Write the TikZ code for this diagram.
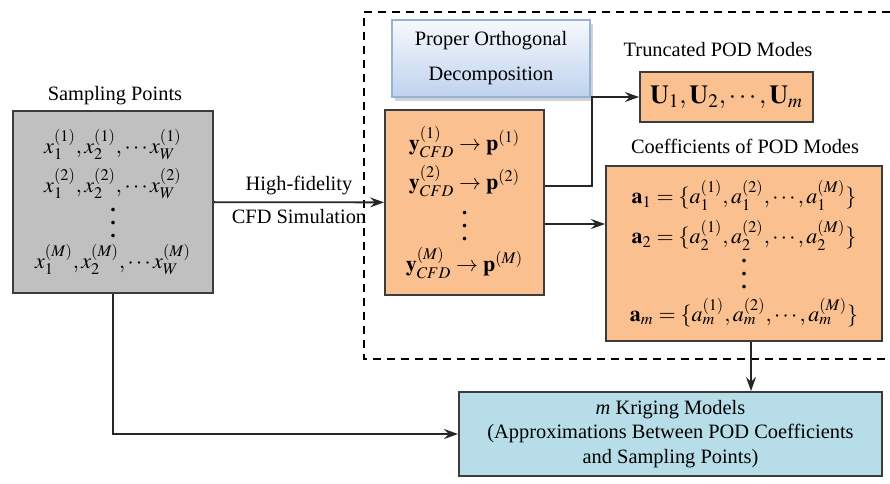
\documentclass[tikz,border=0pt]{standalone}
\usepackage{mathptmx}
\usepackage[no-math]{fontspec}
\setmainfont{Liberation Serif}
\usetikzlibrary{arrows.meta,shadows}
\definecolor{samplegray}{RGB}{192,192,192}
\definecolor{podorange}{RGB}{250,192,144}
\definecolor{krigblue}{RGB}{183,222,232}
\definecolor{podtop}{RGB}{246,249,253}
\definecolor{podbottom}{RGB}{190,210,238}
\definecolor{podedge}{RGB}{149,179,215}
\definecolor{edgegray}{RGB}{60,60,60}
\newcommand{\bigvdots}{\vbox{\baselineskip6.5pt\lineskiplimit0pt\kern2pt\hbox{\bfseries .}\hbox{\bfseries .}\hbox{\bfseries .}}}
\newcommand{\tightlines}{\lineskiplimit=-20pt\relax}

\begin{document}
\begin{tikzpicture}[
    x=0.5pt, y=-0.5pt,
    every node/.style={font=\fontsize{10.2}{12.2}\selectfont},
    box/.style={draw=edgegray, line width=1pt, inner sep=0pt, align=center},
    mathbox/.style={box, font=\fontsize{11}{19.5}\selectfont\tightlines},
    link/.style={draw=black!85, line width=0.9pt, -{Stealth[length=7pt,width=5pt,inset=2.5pt]}}
]
\useasboundingbox (0,0) rectangle (890,483);

% dashed frame round the POD part
\draw[dash pattern=on 4pt off 3pt, line width=0.8pt] (890,12) -- (364,12) -- (364,359) -- (890,359);

\node (samptitle) at (115,96) {Sampling Points};
\node[mathbox, fill=samplegray, minimum width=100pt, minimum height=91pt] (samp) at (113,202)
  {$x_1^{(1)},x_2^{(1)},\cdots x_W^{(1)}$\\
   $x_1^{(2)},x_2^{(2)},\cdots x_W^{(2)}$\\[3pt]
   \bigvdots\\[-4pt]
   $x_1^{(M)},x_2^{(M)},\cdots x_W^{(M)}$};

\node[draw=podedge, line width=0.8pt, top color=podtop, bottom color=podbottom,
      drop shadow={shadow xshift=1.5pt, shadow yshift=-2pt, fill=black!35},
      minimum width=99pt, minimum height=38.5pt, align=center,
      font=\fontsize{10.2}{17.5}\selectfont] (pod) at (491,58.5) {Proper Orthogonal\\Decomposition};

\node[mathbox, fill=podorange, minimum width=79.5pt, minimum height=92.5pt] (snap) at (464.5,202.5)
  {$\mathbf{y}_{CFD}^{(1)}\rightarrow\mathbf{p}^{(1)}$\\
   $\mathbf{y}_{CFD}^{(2)}\rightarrow\mathbf{p}^{(2)}$\\[6pt]
   \bigvdots\\[-4pt]
   $\mathbf{y}_{CFD}^{(M)}\rightarrow\mathbf{p}^{(M)}$};

\node (utitle) at (718,50) {Truncated POD Modes};
\node[mathbox, fill=podorange, minimum width=86.5pt, minimum height=25pt, font=\fontsize{13}{15}\selectfont] (ubox) at (726.5,97)
  {$\mathbf{U}_1,\mathbf{U}_2,\cdots,\mathbf{U}_m$};

\node (ctitle) at (745,146) {Coefficients of POD Modes};
\node[mathbox, fill=podorange, minimum width=138pt, minimum height=87.5pt,
      font=\fontsize{11}{20}\selectfont\tightlines] (cbox) at (744,253.5)
  {$\mathbf{a}_1=\{a_1^{(1)},a_1^{(2)},\cdots,a_1^{(M)}\}$\\
   $\mathbf{a}_2=\{a_2^{(1)},a_2^{(2)},\cdots,a_2^{(M)}\}$\\[2.5pt]
   \bigvdots\\[-3.5pt]
   $\mathbf{a}_m=\{a_m^{(1)},a_m^{(2)},\cdots,a_m^{(M)}\}$};

\node[box, fill=krigblue, minimum width=211.5pt, minimum height=42pt] (krig) at (670.5,434)
  {\textit{m} Kriging Models\\(Approximations Between POD Coefficients\\and Sampling Points)};

\coordinate (bend) at (592,186);
\coordinate (coefrow) at (0,224);

\draw[link] (samp) -- (snap) node[pos=0.5, above] (hflabel) {High-fidelity}
                             node[pos=0.5, below] (cfdlabel) {CFD Simulation};
\draw[link] (snap.east |- bend) -- (bend) |- (ubox.west);
\draw[link] (snap.east |- coefrow) -- (cbox.west |- coefrow);
\draw[link] ([xshift=3.5pt]cbox.south) -- ([xshift=3.5pt]cbox.south |- krig.north);
\draw[link] (samp.south) |- (krig.west);

\end{tikzpicture}
\end{document}
